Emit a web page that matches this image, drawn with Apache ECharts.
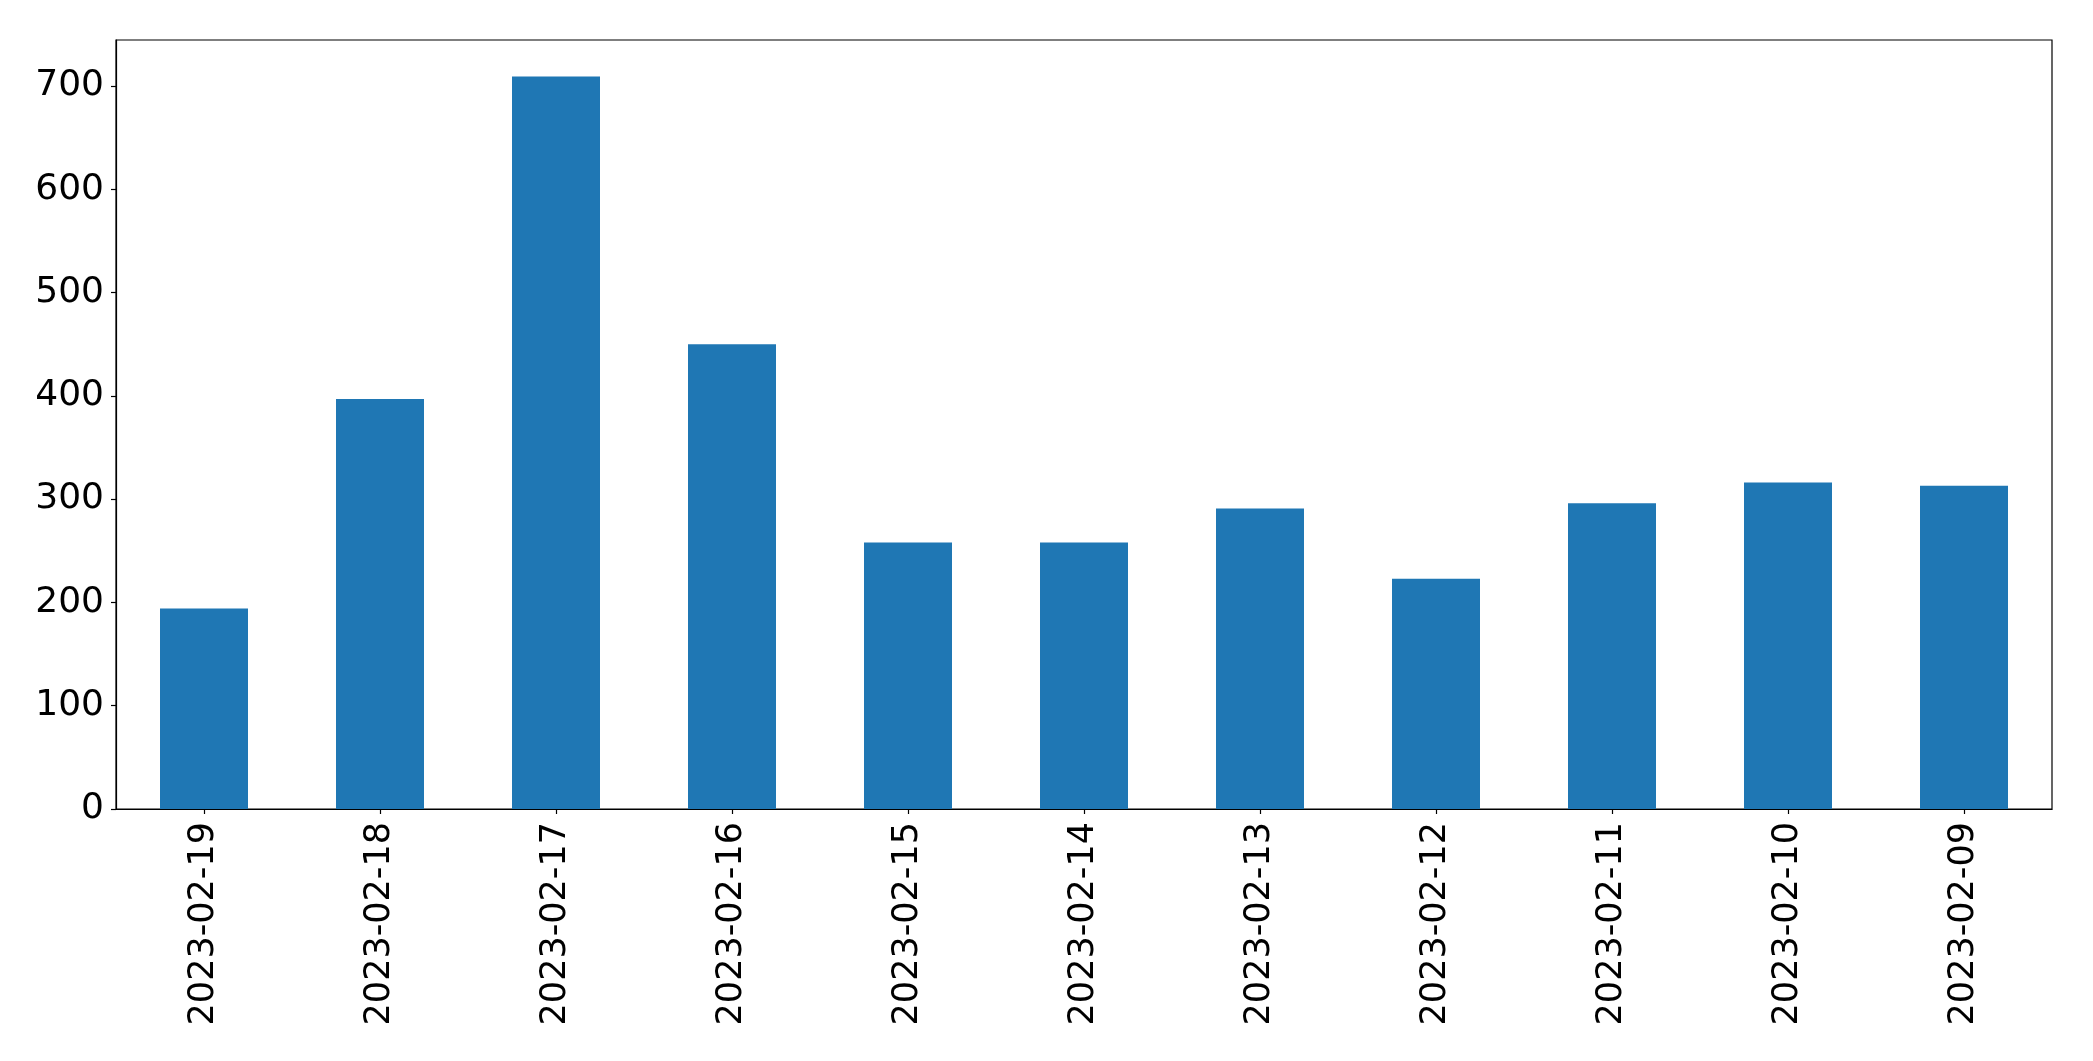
<!DOCTYPE html>
<html>
<head>
<meta charset="utf-8">
<script src="https://cdn.jsdelivr.net/npm/echarts@6/dist/echarts.min.js"></script>
<style>
html,body{margin:0;padding:0;background:#fff;}
#chart{width:2093px;height:1061px;}
</style>
</head>
<body>
<div id="chart"></div>
<script>
const categories = ["2023-02-19","2023-02-18","2023-02-17","2023-02-16","2023-02-15","2023-02-14","2023-02-13","2023-02-12","2023-02-11","2023-02-10","2023-02-09"];
const values = [194, 397, 709, 450, 258, 258, 291, 223, 296, 316, 313];
const yTicks = [0, 100, 200, 300, 400, 500, 600, 700];

const chart = echarts.init(document.getElementById('chart'), null, {renderer: 'canvas'});
const yMax = Math.max(...values) * 1.05;
chart.setOption({
  animation: false,
  backgroundColor: '#ffffff',
  grid: {
    left: 116, right: 41, top: 40, bottom: 252,
    show: true, borderColor: '#000000', borderWidth: 1.2, backgroundColor: 'transparent'
  },
  xAxis: {
    type: 'category',
    data: categories,
    boundaryGap: true,
    axisLine: {show: true, lineStyle: {color: '#000000', width: 1.2}},
    axisTick: {show: true, alignWithLabel: true, length: 5, lineStyle: {color: '#000000', width: 1.2}},
    axisLabel: {
      rotate: 90, margin: 13, color: '#000000',
      fontFamily: 'DejaVu Sans', fontSize: 35, interval: 0
    },
    splitLine: {show: false}
  },
  yAxis: {
    type: 'value',
    min: 0,
    max: yMax,
    interval: 100,
    axisLine: {show: true, lineStyle: {color: '#000000', width: 1.2}},
    axisTick: {show: true, length: 5, customValues: yTicks, lineStyle: {color: '#000000', width: 1.2}},
    axisLabel: {
      customValues: yTicks, margin: 12, color: '#000000',
      fontFamily: 'DejaVu Sans', fontSize: 36
    },
    splitLine: {show: false}
  },
  series: [{
    type: 'bar',
    data: values,
    barWidth: '50%',
    itemStyle: {color: '#1f77b4'}
  }]
});
</script>
</body>
</html>
